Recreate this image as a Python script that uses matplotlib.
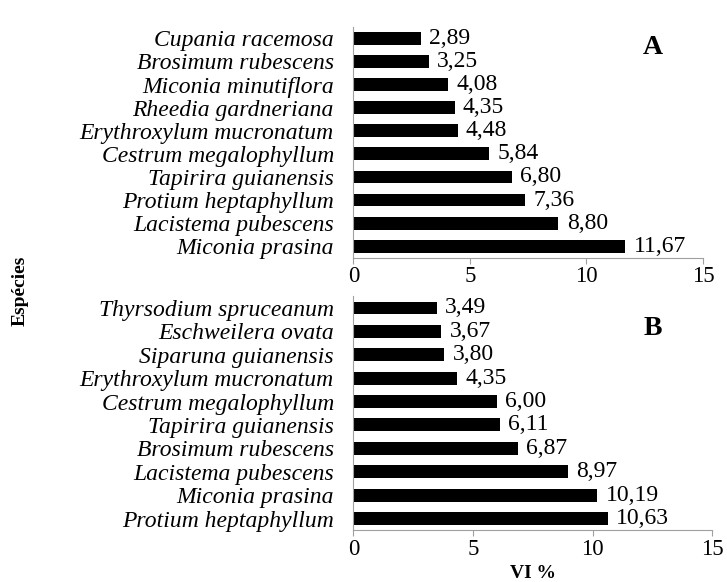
import matplotlib.pyplot as plt

plt.rcParams['font.family'] = ['Liberation Serif', 'DejaVu Serif']

# Panel A
especies_a = ["Cupania racemosa", "Brosimum rubescens", "Miconia minutiflora",
              "Rheedia gardneriana", "Erythroxylum mucronatum", "Cestrum megalophyllum",
              "Tapirira guianensis", "Protium heptaphyllum", "Lacistema pubescens",
              "Miconia prasina"]
vi_a = [2.89, 3.25, 4.08, 4.35, 4.48, 5.84, 6.80, 7.36, 8.80, 11.67]

# Panel B
especies_b = ["Thyrsodium spruceanum", "Eschweilera ovata", "Siparuna guianensis",
              "Erythroxylum mucronatum", "Cestrum megalophyllum", "Tapirira guianensis",
              "Brosimum rubescens", "Lacistema pubescens", "Miconia prasina",
              "Protium heptaphyllum"]
vi_b = [3.49, 3.67, 3.80, 4.35, 6.00, 6.11, 6.87, 8.97, 10.19, 10.63]

fig = plt.figure(figsize=(7.27, 5.82), dpi=100)
ax1 = fig.add_axes([0.486, 0.557, 0.481, 0.397])
ax2 = fig.add_axes([0.486, 0.089, 0.494, 0.402])

fs = 17


def panel(ax, nomes, valores, letra, lx, ly):
    pos = list(range(len(nomes)))
    ax.barh(pos, valores, height=0.55, color='black')
    ax.set_ylim(len(nomes) - 0.5, -0.5)
    ax.set_yticks(pos)
    ax.set_yticklabels(nomes, fontsize=fs, style='italic')
    ax.set_xlim(0, 15)
    ax.set_xticks([0, 5, 10, 15])
    ax.tick_params(axis='x', labelsize=fs - 0.5, color='#a0a0a0', length=4, pad=2)
    ax.tick_params(axis='y', length=0, pad=14)
    for s in ['top', 'right']:
        ax.spines[s].set_visible(False)
    for s in ['left', 'bottom']:
        ax.spines[s].set_color('#a0a0a0')
    for p, v in zip(pos, valores):
        ax.text(v + 0.35, p, f"{v:.2f}".replace('.', ','), va='center',
                ha='left', fontsize=fs)
    ax.text(lx, ly, letra, transform=ax.transAxes, fontsize=20,
            fontweight='bold', ha='center', va='center')


panel(ax1, especies_a, vi_a, 'A', 0.857, 0.91)
panel(ax2, especies_b, vi_b, 'B', 0.833, 0.86)

ax2.set_xlabel("VI %", fontsize=14, fontweight='bold', labelpad=4)
fig.text(0.028, 0.5, "Espécies", rotation=90, fontsize=14,
         fontweight='bold', ha='center', va='center')

fig.savefig("out.png", dpi=100)
